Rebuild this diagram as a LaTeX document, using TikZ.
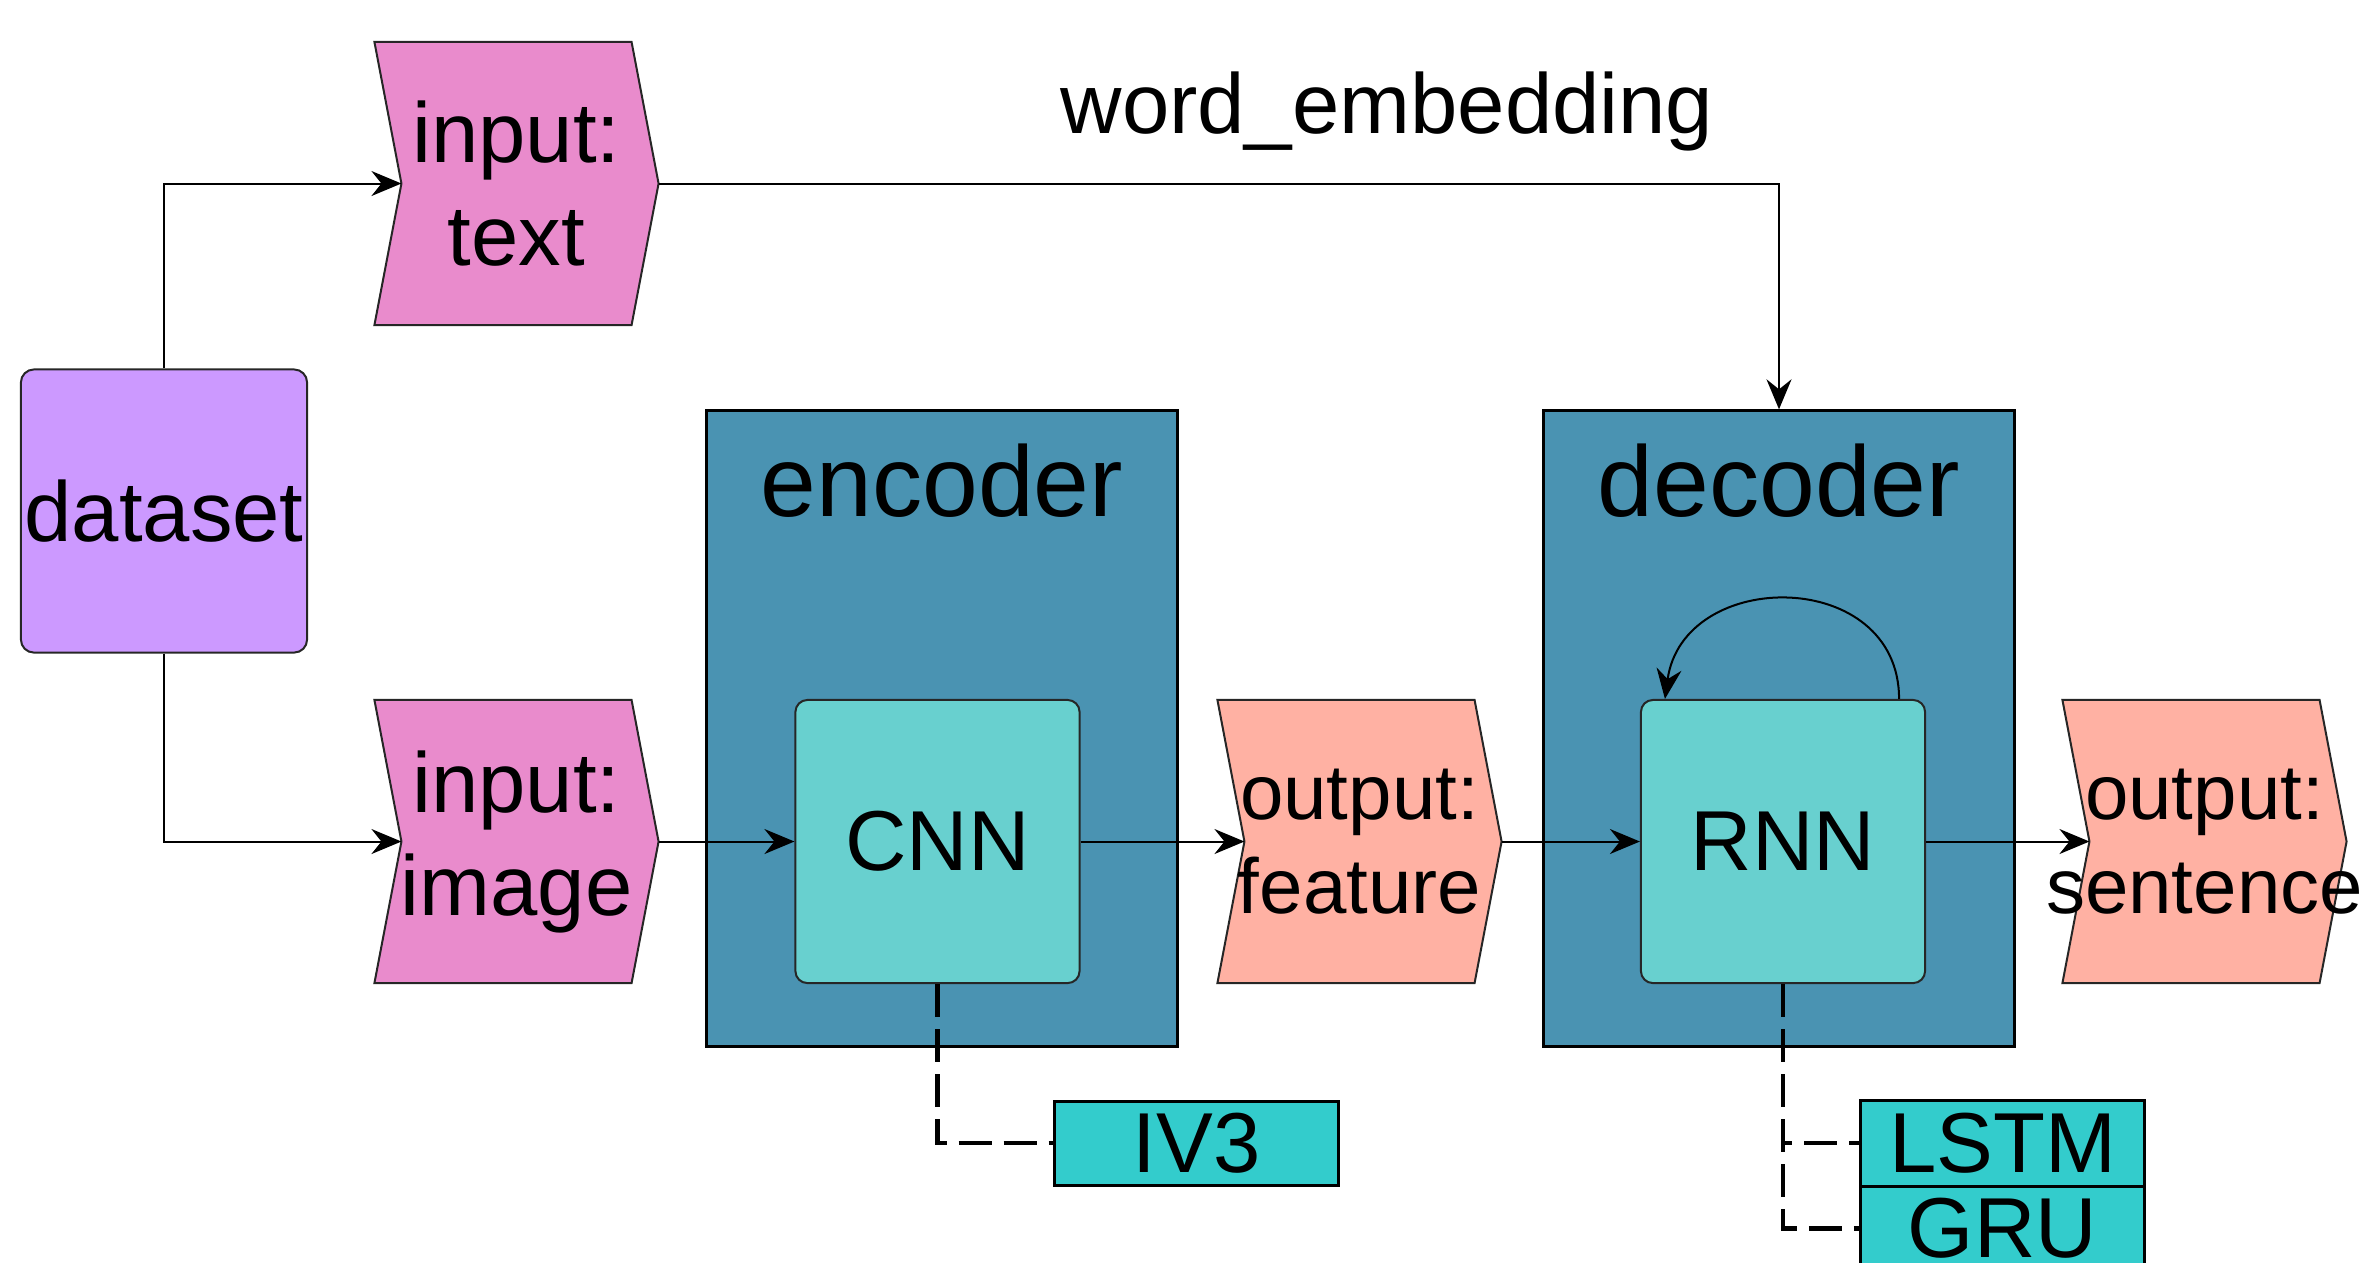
\documentclass[tikz,border=0pt]{standalone}
\usepackage{fontspec}
\setmainfont{Liberation Sans}
\usetikzlibrary{arrows.meta,backgrounds}
\definecolor{cpink}{RGB}{233,139,204}
\definecolor{cpurp}{RGB}{204,153,255}
\definecolor{cblue}{RGB}{74,147,178}
\definecolor{cteal}{RGB}{104,208,207}
\definecolor{csalm}{RGB}{255,177,163}
\definecolor{ccyan}{RGB}{51,204,204}
% chevron drawn around the centre of a text node: half width 1.42cm, half height 1.415cm, indent 0.27cm
\newcommand\chevshape[2]{\filldraw[fill=#2, draw=black!85, line width=0.02cm]
  ([shift={(-1.42cm,1.415cm)}]#1.center) -- ([shift={(1.15cm,1.415cm)}]#1.center) --
  ([shift={(1.42cm,0cm)}]#1.center) -- ([shift={(1.15cm,-1.415cm)}]#1.center) --
  ([shift={(-1.42cm,-1.415cm)}]#1.center) -- ([shift={(-1.15cm,0cm)}]#1.center) -- cycle;}
\tikzset{
  lbl/.style={font=\fontsize{24.2}{29.3}\selectfont, align=center, inner sep=0pt},
  olbl/.style={font=\fontsize{22.2}{26.9}\selectfont, align=center, inner sep=0pt},
  biglbl/.style={font=\fontsize{28.5}{34}\selectfont, anchor=base, inner sep=0pt},
  boxed/.style={draw=black!85, line width=0.02cm, inner sep=0pt},
  frame/.style={draw=black, line width=0.03cm, fill=cblue, inner sep=0pt, minimum width=4.70cm, minimum height=6.35cm},
  core/.style={boxed, rounded corners=0.12cm, fill=cteal, minimum width=2.84cm, minimum height=2.83cm, lbl},
  variant/.style={draw=black, line width=0.03cm, fill=ccyan, minimum width=2.84cm, lbl},
  arr/.style={draw=black, line width=0.02cm, -{Stealth[length=0.3cm,width=0.25cm,inset=0.1cm]}},
  dsh/.style={draw=black, line width=0.045cm, dash pattern=on 0.33cm off 0.12cm}
}
\begin{document}
\begin{tikzpicture}[x=0.01cm,y=-0.01cm]
\useasboundingbox (0,0) rectangle (2360,1262);
\clip (0,0) rectangle (2360,1262);

% containers
\node[frame] (enc) at (942,728.5) {};
\node[frame] (dec) at (1779,728.5) {};
\node[biglbl] (enclbl) at (942,516) {encoder};
\node[biglbl] (declbl) at (1779,516) {decoder};

% source
\node[boxed, rounded corners=0.13cm, fill=cpurp, minimum width=2.86cm, minimum height=2.83cm, lbl] (ds) at (164,511) {dataset};

% chevron texts
\node[lbl] (itxt) at (516.5,183.5) {input:\\text};
\node[lbl] (iimg) at (516.5,841.5) {input:\\image};
\node[olbl] (ofeat) at (1359.5,841.5) {output:\\feature};
\node[olbl] (osent) at (2204.5,841.5) {output:\\sentence};

\begin{pgfonlayer}{background}
\chevshape{itxt}{cpink}
\chevshape{iimg}{cpink}
\chevshape{ofeat}{csalm}
\chevshape{osent}{csalm}
\end{pgfonlayer}

% cores
\node[core] (cnn) at (937.5,841.5) {CNN};
\node[core] (rnn) at (1783,841.5) {RNN};

% variants
\node[variant, minimum height=0.84cm] (iv3) at (1196.5,1143) {IV3};
\node[variant, minimum height=0.86cm] (lstm) at (2002.5,1143) {LSTM};
\node[variant, minimum height=0.85cm] (gru) at (2002.5,1228.5) {GRU};

% label
\node[lbl, anchor=base] (we) at (1387,133) {word\_embedding};

% connectors
\draw[arr] (ds.north) |- ([xshift=-1.15cm]itxt.center);
\draw[arr] (ds.south) |- ([xshift=-1.15cm]iimg.center);
\draw[arr] ([xshift=1.42cm]itxt.center) -| (dec.north);
\draw[arr] ([xshift=1.42cm]iimg.center) -- (cnn.west);
\draw[arr] (cnn.east) -- ([xshift=-1.15cm]ofeat.center);
\draw[arr] ([xshift=1.42cm]ofeat.center) -- (rnn.west);
\draw[arr] (rnn.east) -- ([xshift=-1.15cm]osent.center);
\draw[arr] ([xshift=1.16cm]rnn.north) .. controls +(0,-132) and +(18,-132) .. ([xshift=-1.18cm]rnn.north);

\draw[dsh] (cnn.south) |- (iv3.west);
\draw[dsh] (rnn.south) |- (lstm.west);
\draw[dsh] (rnn.south) |- (gru.west);
\end{tikzpicture}
\end{document}
